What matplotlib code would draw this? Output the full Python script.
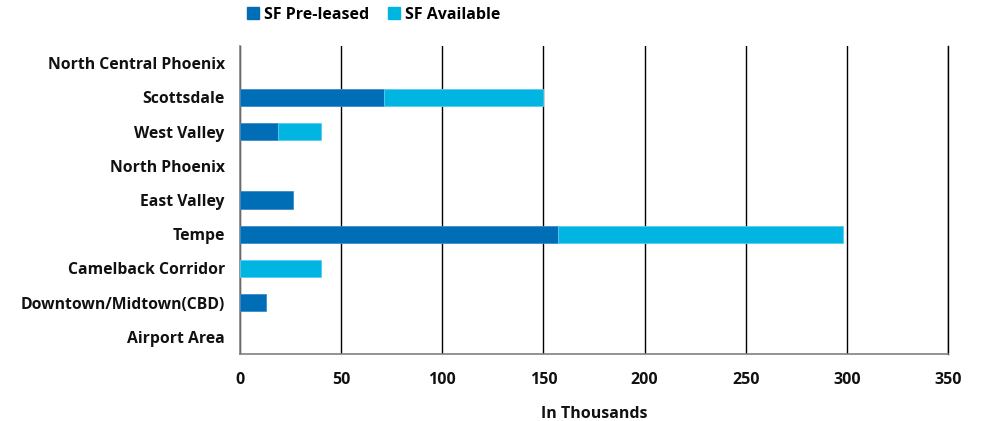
import matplotlib.pyplot as plt
from matplotlib.patches import Patch

plt.rcParams['font.family'] = ['Open Sans', 'DejaVu Sans']

submarkets = ["North Central Phoenix", "Scottsdale", "West Valley", "North Phoenix",
              "East Valley", "Tempe", "Camelback Corridor", "Downtown/Midtown(CBD)",
              "Airport Area"]
pre_leased = [0, 71, 19, 0, 26, 157, 0, 13, 0]
available = [0, 79, 21, 0, 0, 141, 40, 0, 0]

dark_blue = "#006EB6"
light_blue = "#00B5E2"

fig = plt.figure(figsize=(9.83, 4.21), dpi=100)
ax = fig.add_axes([0.2442, 0.1591, 0.7202, 0.7316])

y = list(range(len(submarkets)))
# empty segments get no outline so nothing shows up at zero
ax.barh(y, pre_leased, height=0.5, color=dark_blue, zorder=3,
        edgecolor=["#3f8cc6" if v else "none" for v in pre_leased], linewidth=0.6)
ax.barh(y, available, left=pre_leased, height=0.5, color=light_blue, zorder=3,
        edgecolor=["#5ccbec" if v else "none" for v in available], linewidth=0.6)

ax.set_ylim(len(submarkets) - 0.5, -0.5)
ax.set_yticks(y)
ax.set_yticklabels(submarkets, fontsize=11.3, fontweight="bold", color="#111111")
ax.set_xlim(0, 350)
ax.set_xticks(range(0, 351, 50))
ax.set_xticklabels([str(v) for v in range(0, 351, 50)], fontsize=11.5, fontweight="bold",
                   color="#111111")
ax.tick_params(axis="both", length=0)
ax.tick_params(axis="x", pad=13)
ax.tick_params(axis="y", pad=11)
ax.set_xlabel("In Thousands", fontsize=11.5, fontweight="bold", color="#111111", labelpad=13)

ax.grid(axis="x", color="black", linewidth=1.0, zorder=0)
for side in ["top", "right"]:
    ax.spines[side].set_visible(False)
for side in ["left", "bottom"]:
    ax.spines[side].set_color("#808080")
    ax.spines[side].set_linewidth(1.2)
ax.axvline(350, color="black", linewidth=1.0, zorder=0, clip_on=False)

handles = [Patch(color=dark_blue, label="SF Pre-leased"),
           Patch(color=light_blue, label="SF Available")]
fig.legend(handles=handles, loc="center left", bbox_to_anchor=(0.2435, 0.965), ncol=2,
           frameon=False, prop={"weight": "bold", "size": 11.5}, handlelength=0.75,
           handleheight=0.75, handletextpad=0.3, columnspacing=1.2, borderpad=0)

fig.savefig("out.png", dpi=100)
